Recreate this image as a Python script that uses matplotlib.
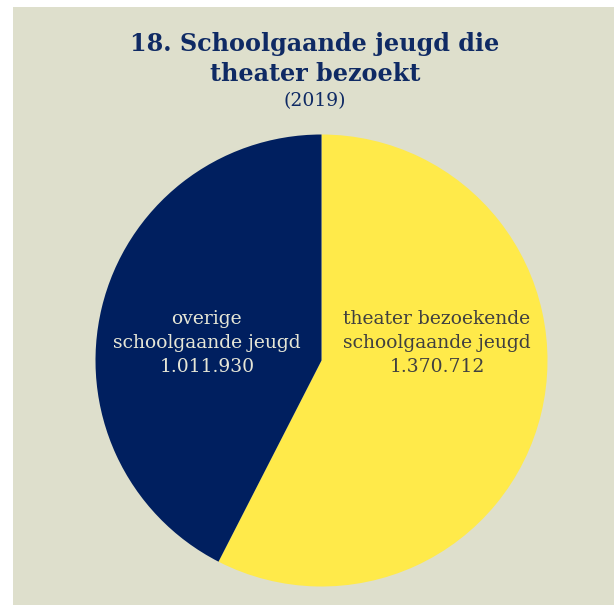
import matplotlib.pyplot as plt
from matplotlib.patches import Rectangle

# data
categories = ['theater bezoekende\nschoolgaande jeugd', 'overige\nschoolgaande jeugd']
values = [1370712, 1011930]
colors = ['#ffea4a', '#001f5f']
text_colors = ['#404040', '#e6e6d6']

bg = '#dedfcc'
navy = '#0f2a64'

plt.rcParams['font.family'] = ['DejaVu Serif']

W, H = 614, 605
fig = plt.figure(figsize=(W / 100, H / 100), dpi=100)
fig.patch.set_facecolor('white')
# beige panel
fig.patches.append(Rectangle((13 / W, 0), 1, 1 - 7 / H, transform=fig.transFigure,
                             facecolor=bg, edgecolor='none', zorder=-1))

# pie axes (radius 226 px, centre 321.5, 360.5)
r = 226
cx, cy = 321.5, 360.5
ax = fig.add_axes([(cx - r) / W, (H - cy - r) / H, 2 * r / W, 2 * r / H])
ax.pie(values, colors=colors, startangle=90, counterclock=False,
       wedgeprops=dict(linewidth=0))
ax.set_xlim(-1, 1)
ax.set_ylim(-1, 1)
ax.set_aspect('equal')
ax.axis('off')

def nl(n):
    return f'{n:,}'.replace(',', '.')

label_x = [0.511, -0.507]
for i in range(len(values)):
    ax.text(label_x[i], 0.077, categories[i] + '\n' + nl(values[i]),
            ha='center', va='center', fontsize=13.5, color=text_colors[i],
            linespacing=1.4)

# titel
fig.text(315 / W, 1 - 44 / H, '18. Schoolgaande jeugd die', ha='center', va='center',
         fontsize=17.2, fontweight='bold', color=navy)
fig.text(315 / W, 1 - 74 / H, 'theater bezoekt', ha='center', va='center',
         fontsize=17.2, fontweight='bold', color=navy)
fig.text(315 / W, 1 - 101 / H, '(2019)', ha='center', va='center',
         fontsize=13.5, color=navy)

plt.savefig('out.png', dpi=100, facecolor=fig.get_facecolor())
